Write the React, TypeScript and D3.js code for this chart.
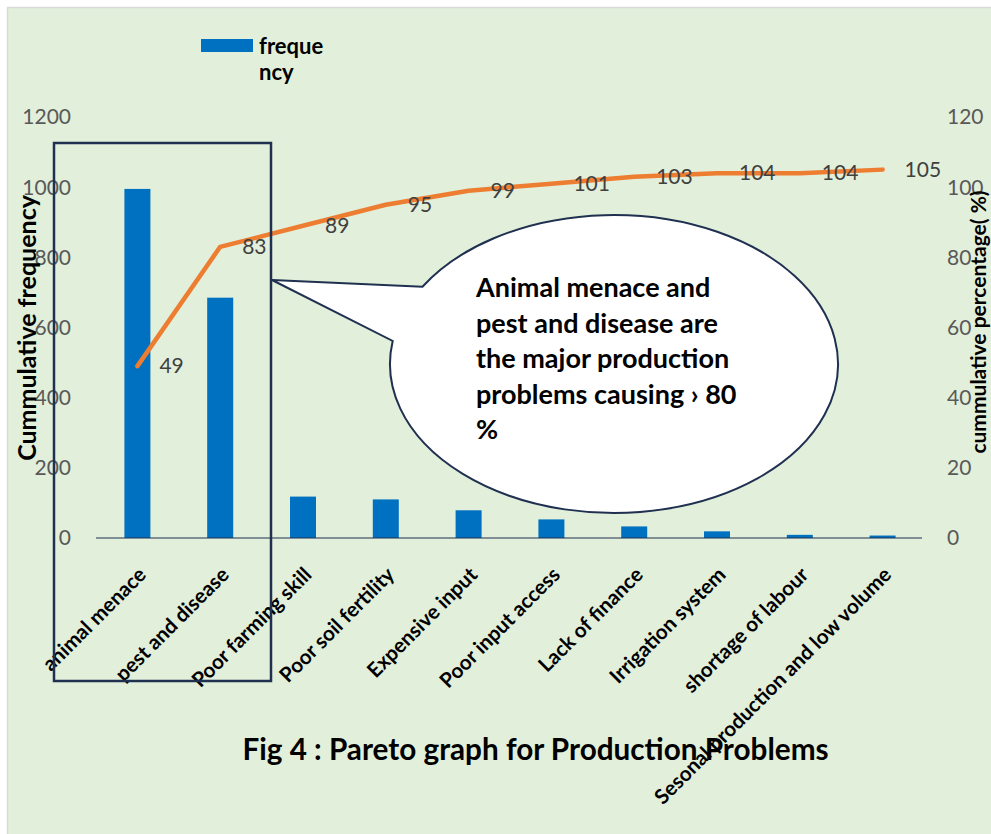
import React from "react";
import * as d3 from "d3";

const categories = [
  "animal menace",
  "pest and disease",
  "Poor farming skill",
  "Poor soil fertility",
  "Expensive input",
  "Poor input access",
  "Lack of finance",
  "Irrigation system",
  "shortage of labour",
  "Sesonal production and low volume",
];
const frequency = [995, 685, 118, 110, 79, 53, 33, 19, 9, 7];
const cumulativePct = [49, 83, 89, 95, 99, 101, 103, 104, 104, 105];
const leftTicks = [0, 200, 400, 600, 800, 1000, 1200];
const rightTicks = [0, 20, 40, 60, 80, 100, 120];
const calloutLines = [
  "Animal menace and",
  "pest and disease are",
  "the major production",
  "problems causing \u203A 80",
  "%",
];
const titleText = "Fig 4 : Pareto graph for Production Problems";
const legendLines = ["freque", "ncy"];

const FONT = "Lato, 'Open Sans', sans-serif";

export default function App() {
  const W = 991;
  const H = 834;
  const x = d3
    .scaleBand<string>()
    .domain(categories)
    .range([96, 924])
    .paddingInner(0.686)
    .paddingOuter(0.343);
  const yL = d3.scaleLinear().domain([0, 1200]).range([538, 117]);
  const yR = d3.scaleLinear().domain([0, 120]).range([538, 117]);
  const cx = (c: string) => (x(c) as number) + x.bandwidth() / 2;

  const line = d3
    .line<number>()
    .x((_, i) => cx(categories[i]))
    .y((d) => yR(d));

  // callout geometry
  const ecx = 614, ecy = 364, erx = 224, ery = 149;
  const tip: [number, number] = [272, 280];
  const a1 = Math.atan2((287 - ecy) / ery, (423 - ecx) / erx);
  const a2 = Math.atan2((341 - ecy) / ery, (393 - ecx) / erx);
  const p1 = [ecx + erx * Math.cos(a1), ecy + ery * Math.sin(a1)];
  const p2 = [ecx + erx * Math.cos(a2), ecy + ery * Math.sin(a2)];
  const callout = `M${p1[0]},${p1[1]} A${erx},${ery} 0 1 1 ${p2[0]},${p2[1]} L${tip[0]},${tip[1]} Z`;

  return (
    <svg
      width={W}
      height={H}
      style={{ position: "absolute", left: 0, top: 0, fontFamily: FONT }}
    >
      <rect x={0} y={0} width={W} height={H} fill="#ffffff" />
      <rect x={7.5} y={7.5} width={W} height={H} fill="#E2EFDA" stroke="#D9D9D9" strokeWidth={1.5} />

      {/* left ticks */}
      {leftTicks.map((t) => (
        <text key={"l" + t} x={71} y={yL(t)} dy="0.35em" textAnchor="end" fontSize={21} fill="#595959">
          {t}
        </text>
      ))}
      {rightTicks.map((t) => (
        <text key={"r" + t} x={947} y={yR(t)} dy="0.35em" textAnchor="start" fontSize={21} fill="#595959">
          {t}
        </text>
      ))}

      {/* bars */}
      {frequency.map((v, i) => (
        <rect
          key={"b" + i}
          x={x(categories[i])}
          y={yL(v)}
          width={x.bandwidth()}
          height={yL(0) - yL(v)}
          fill="#0070C0"
        />
      ))}

      {/* x axis line */}
      <line x1={96} x2={922} y1={yL(0)} y2={yL(0)} stroke="#1F3050" strokeWidth={1.2} />

      {/* cumulative line */}
      <path
        d={line(cumulativePct) || ""}
        fill="none"
        stroke="#ED7D31"
        strokeWidth={4.5}
        strokeLinecap="round"
        strokeLinejoin="round"
      />
      {cumulativePct.map((v, i) => (
        <text
          key={"d" + i}
          x={cx(categories[i]) + 22}
          y={yR(v)}
          dy="0.35em"
          fontSize={21}
          fill="#404040"
        >
          {v}
        </text>
      ))}

      {/* category labels */}
      {categories.map((c) => (
        <text
          key={"c" + c}
          transform={`translate(${cx(c) + 10},576) rotate(-45)`}
          textAnchor="end"
          fontSize={20.6}
          fontWeight="bold"
          fill="#000000"
        >
          {c}
        </text>
      ))}

      {/* highlight box */}
      <rect x={54} y={143} width={217} height={538} fill="none" stroke="#1F3050" strokeWidth={2.5} />

      {/* callout */}
      <path d={callout} fill="#ffffff" stroke="#1F3050" strokeWidth={2} strokeLinejoin="miter" />
      {calloutLines.map((l, i) => (
        <text key={"t" + i} x={476} y={297 + i * 35.5} fontSize={27} fontWeight="bold" fill="#000000">
          {l}
        </text>
      ))}

      {/* legend */}
      <rect x={201} y={39} width={52} height={13} fill="#0070C0" />
      {legendLines.map((l, i) => (
        <text key={"lg" + i} x={259} y={54 + i * 26} fontSize={22} fontWeight="bold" fill="#000000">
          {l}
        </text>
      ))}

      {/* axis titles */}
      <text
        transform="translate(36,328) rotate(-90)"
        textAnchor="middle"
        fontSize={25}
        fontWeight="bold"
        fill="#000000"
      >
        Cummulative frequency
      </text>
      <text
        transform="translate(986,322) rotate(-90)"
        textAnchor="middle"
        fontSize={21}
        fontWeight="bold"
        fill="#000000"
      >
        cummulative percentage( %)
      </text>

      {/* title */}
      <text x={535.5} y={760} textAnchor="middle" fontSize={29.7} fontWeight="bold" fill="#000000">
        {titleText}
      </text>
    </svg>
  );
}
